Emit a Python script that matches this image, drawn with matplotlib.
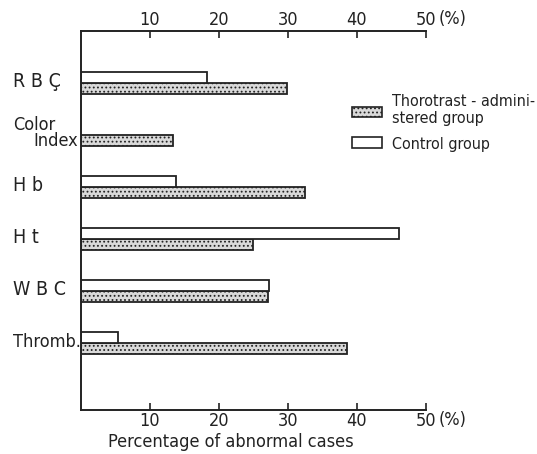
import matplotlib.pyplot as plt
import numpy as np

# ── Data ──────────────────────────────────────────────
categories = ["R B Ç", "Color Index", "H b", "H t", "W B C", "Thromb."]
thorotrast = [29.8, 13.4, 32.5, 25.0, 27.1, 38.6]
control = [18.3, None, 13.8, 46.1, 27.3, 5.4]
ticks = [10, 20, 30, 40, 50]
tick_labels = ["10", "20", "30", "40", "50"]

plt.rcParams["font.family"] = ["DejaVu Sans"]
plt.rcParams["font.stretch"] = "condensed"
plt.rcParams["hatch.linewidth"] = 0.8

INK = "#222222"
fig = plt.figure(figsize=(5.37, 4.54), dpi=100)
ax = fig.add_axes([0.1508, 0.0969, 0.6425, 0.8348])

pos = np.arange(len(categories))
h = 0.21
ax.barh(pos + h / 2, thorotrast, height=h, facecolor="#d9d9d9",
        edgecolor=INK, hatch="....", linewidth=1.3)
for p, v in zip(pos, control):
    if v is not None:
        ax.barh(p - h / 2, v, height=h, facecolor="white",
                edgecolor=INK, linewidth=1.3)

ax.set_xlim(0, 50)
ax.set_ylim(6.29, -1)

for s in ["left", "top", "bottom"]:
    ax.spines[s].set_linewidth(1.4)
    ax.spines[s].set_color(INK)
ax.spines["right"].set_visible(False)

ax.set_yticks([])
ax.set_xticks(ticks)
ax.set_xticklabels(tick_labels)
ax.tick_params(axis="x", top=True, labeltop=True, direction="in",
               length=5, width=1.2, labelsize=13, pad=1.5, colors=INK)
xt = ax.get_xaxis_transform()
ax.text(51.8, 1.031, "(%)", transform=xt, fontsize=13, va="center",
        ha="left", color=INK, clip_on=False)
ax.text(51.8, -0.027, "(%)", transform=xt, fontsize=13, va="center",
        ha="left", color=INK, clip_on=False)
fig.text(231 / 537, 1 - 442 / 454, "Percentage of abnormal cases",
         fontsize=13, va="center", ha="center", color=INK)

# ── Category labels ───────────────────────────────────
yt = ax.get_yaxis_transform()
lab_kw = dict(fontsize=14, color=INK, va="center", ha="left",
              transform=yt, clip_on=False)
off = -0.197
ax.text(off, pos[0] - 0.02, categories[0], **lab_kw)
ax.text(off, pos[1] - 0.2, "Color", **dict(lab_kw, fontsize=13))
ax.text(off + 0.06, pos[1] + 0.12, "Index", **dict(lab_kw, fontsize=13))
for p, c in zip(pos[2:5], categories[2:5]):
    ax.text(off, p - 0.02, c, **lab_kw)
ax.text(off, pos[5] - 0.01, categories[5], **dict(lab_kw, fontsize=13))

# ── Legend (drawn by hand to match layout) ────────────
lx, lw = 352 / 537, 30 / 537
fig.patches.append(plt.Rectangle((lx, 1 - 117 / 454), lw, 10 / 454,
                                 transform=fig.transFigure,
                                 facecolor="#d9d9d9", edgecolor=INK,
                                 hatch="....", linewidth=1.2))
fig.patches.append(plt.Rectangle((lx, 1 - 148 / 454), lw, 11 / 454,
                                 transform=fig.transFigure,
                                 facecolor="white", edgecolor=INK,
                                 linewidth=1.2))
tx = 392 / 537
fig.text(tx, 1 - 101 / 454, "Thorotrast - admini-", fontsize=11.5,
         va="center", ha="left", color=INK)
fig.text(tx, 1 - 118 / 454, "stered group", fontsize=11.5,
         va="center", ha="left", color=INK)
fig.text(tx, 1 - 145 / 454, "Control group", fontsize=11.5,
         va="center", ha="left", color=INK)

fig.savefig("out.png", dpi=100)
